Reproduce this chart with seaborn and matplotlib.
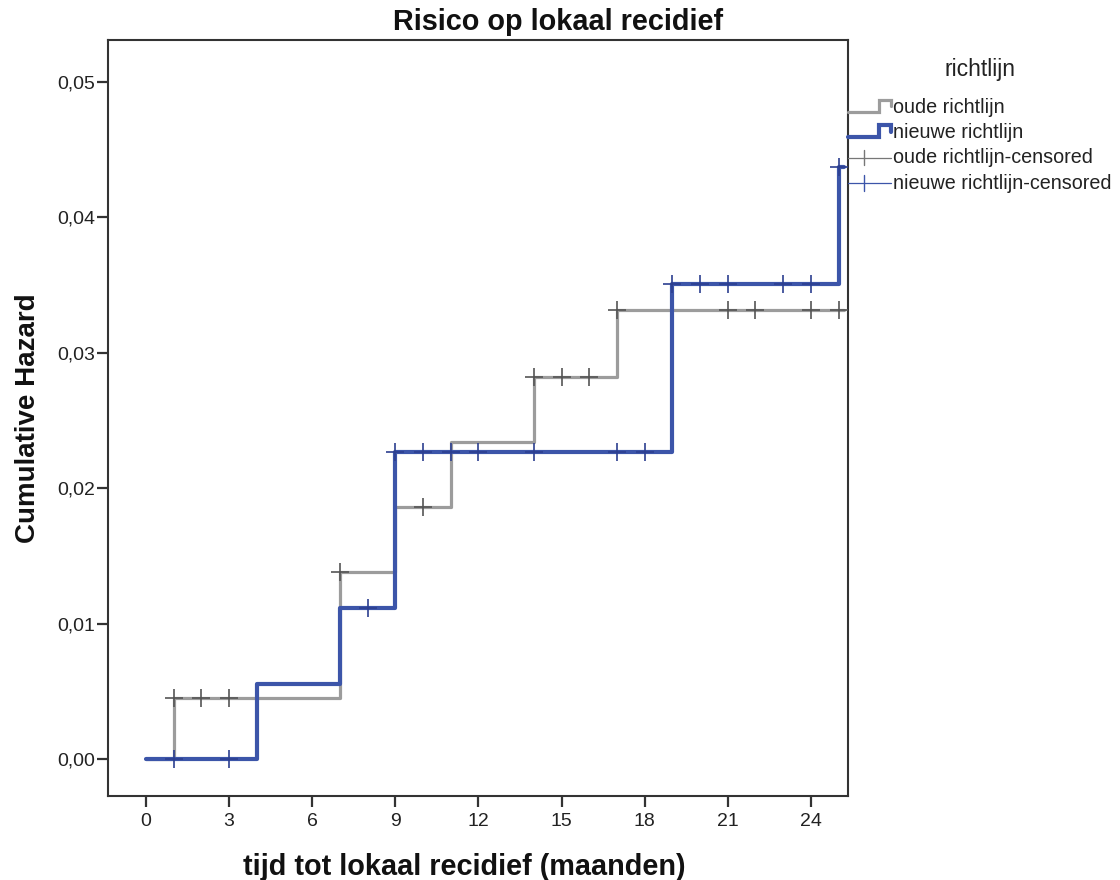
import matplotlib
matplotlib.use("Agg")
import matplotlib.pyplot as plt
import seaborn as sns
import pandas as pd
from matplotlib.lines import Line2D
from matplotlib.legend_handler import HandlerBase
from matplotlib.ticker import FuncFormatter

# ---- data ----
oude_times = [0, 1, 7, 9, 11, 14, 17, 25.2]
oude_hazard = [0.0, 0.0045, 0.0138, 0.0186, 0.0234, 0.0282, 0.0332, 0.0332]
nieuwe_times = [0, 4, 7, 9, 19, 25, 25.2]
nieuwe_hazard = [0.0, 0.0056, 0.0112, 0.0227, 0.0351, 0.0437, 0.0437]

oude_cens_t = [1, 2, 3, 7, 10, 14, 15, 16, 17, 21, 22, 24, 25]
oude_cens_h = [0.0045, 0.0045, 0.0045, 0.0138, 0.0186, 0.0282, 0.0282, 0.0282,
               0.0332, 0.0332, 0.0332, 0.0332, 0.0332]
nieuwe_cens_t = [1, 3, 8, 9, 10, 11, 12, 14, 17, 18, 19, 20, 21, 23, 24, 25]
nieuwe_cens_h = [0.0, 0.0, 0.0112, 0.0227, 0.0227, 0.0227, 0.0227, 0.0227,
                 0.0227, 0.0227, 0.0351, 0.0351, 0.0351, 0.0351, 0.0351, 0.0437]

x_ticks = [0, 3, 6, 9, 12, 15, 18, 21, 24]
y_ticks = [0.00, 0.01, 0.02, 0.03, 0.04, 0.05]
labels = ["oude richtlijn", "nieuwe richtlijn",
          "oude richtlijn-censored", "nieuwe richtlijn-censored"]

GRAY = "#9c9c9c"
BLUE = "#3c55a9"
GRAY_C = "#555555"
BLUE_C = "#2c3f90"

sns.set_style("white")
plt.rcParams["font.family"] = ["Liberation Sans", "DejaVu Sans"]

fig = plt.figure(figsize=(11.2, 8.8), dpi=100)
ax = fig.add_axes([108 / 1120, 1 - 796 / 880, (848 - 108) / 1120, (796 - 40) / 880])

df_o = pd.DataFrame({"t": oude_times, "h": oude_hazard})
df_n = pd.DataFrame({"t": nieuwe_times, "h": nieuwe_hazard})
sns.lineplot(data=df_o, x="t", y="h", ax=ax, color=GRAY, linewidth=2.3,
             drawstyle="steps-post", estimator=None, sort=False, zorder=2)
sns.lineplot(data=df_n, x="t", y="h", ax=ax, color=BLUE, linewidth=3.0,
             drawstyle="steps-post", estimator=None, sort=False, zorder=3)

dc_o = pd.DataFrame({"t": oude_cens_t, "h": oude_cens_h})
dc_n = pd.DataFrame({"t": nieuwe_cens_t, "h": nieuwe_cens_h})
sns.scatterplot(data=dc_o, x="t", y="h", ax=ax, marker="+", s=170,
                color=GRAY_C, linewidth=1.2, zorder=4)
sns.scatterplot(data=dc_n, x="t", y="h", ax=ax, marker="+", s=170,
                color=BLUE_C, linewidth=1.2, zorder=5)

ax.set_xlim(-1.37, 25.34)
ax.set_ylim(-0.0027, 0.0531)
ax.set_xticks(x_ticks)
ax.set_yticks(y_ticks)
ax.yaxis.set_major_formatter(FuncFormatter(lambda v, p: f"{v:.2f}".replace(".", ",")))
ax.tick_params(axis="both", direction="out", length=8, width=1.6, color="#333333",
               labelsize=14, labelcolor="#222222")
ax.tick_params(axis="x", pad=4)
ax.tick_params(axis="y", pad=1)
ax.tick_params(left=True, bottom=True)
for sp in ax.spines.values():
    sp.set_visible(True)
    sp.set_color("#333333")
    sp.set_linewidth(1.5)

fig.suptitle("Risico op lokaal recidief", x=0.498, y=1 - 8 / 880, va="top",
             fontsize=20.8, fontweight="bold", color="#111111")
ax.set_xlabel("tijd tot lokaal recidief (maanden)", fontsize=20.8, fontweight="bold",
              labelpad=14, color="#111111")
ax.xaxis.set_label_coords((464 - 108) / (848 - 108), -0.075)
ax.set_ylabel("Cumulative Hazard", fontsize=20, fontweight="bold", labelpad=12,
              color="#111111")


class StepHandler(HandlerBase):
    def create_artists(self, legend, orig_handle, xdescent, ydescent, width, height, fontsize, trans):
        x0, y0 = -xdescent, -ydescent
        lo, hi, mid = y0 + height * 0.05, y0 + height * 0.95, y0 + height * 0.45
        xs = [x0, x0 + width * 0.72, x0 + width * 0.72, x0 + width, x0 + width]
        ys = [lo, lo, hi, hi, mid]
        ln = Line2D(xs, ys, color=orig_handle.get_color(), linewidth=orig_handle.get_linewidth(),
                    transform=trans, solid_joinstyle="miter")
        return [ln]


class CensHandler(HandlerBase):
    def create_artists(self, legend, orig_handle, xdescent, ydescent, width, height, fontsize, trans):
        x0, y0 = -xdescent, -ydescent
        yc = y0 + height * 0.4
        ln = Line2D([x0, x0 + width], [yc, yc], color=orig_handle.get_color(), linewidth=0.9,
                    transform=trans)
        tk = Line2D([x0 + width * 0.37] * 2, [yc - height * 0.55, yc + height * 0.55],
                    color=orig_handle.get_color(), linewidth=1.0, transform=trans)
        return [ln, tk]


class StepProxy(Line2D):
    pass


class CensProxy(Line2D):
    pass


h1 = StepProxy([], [], color=GRAY, linewidth=2.3)
h2 = StepProxy([], [], color=BLUE, linewidth=3.0)
h3 = CensProxy([], [], color="#777777")
h4 = CensProxy([], [], color=BLUE)
leg = fig.legend([h1, h2, h3, h4], labels, loc="upper left",
                 bbox_to_anchor=(848 / 1120, 1 - 58 / 880), frameon=False,
                 fontsize=14.2, title="richtlijn", title_fontsize=16.5,
                 handlelength=2.2, handletextpad=0.1, labelspacing=0.32,
                 borderpad=0, borderaxespad=0,
                 handler_map={StepProxy: StepHandler(), CensProxy: CensHandler()})
leg.get_title().set_color("#222222")
for t in leg.get_texts():
    t.set_color("#222222")
leg._legend_box.sep = 12

fig.savefig("out.png", dpi=100)
